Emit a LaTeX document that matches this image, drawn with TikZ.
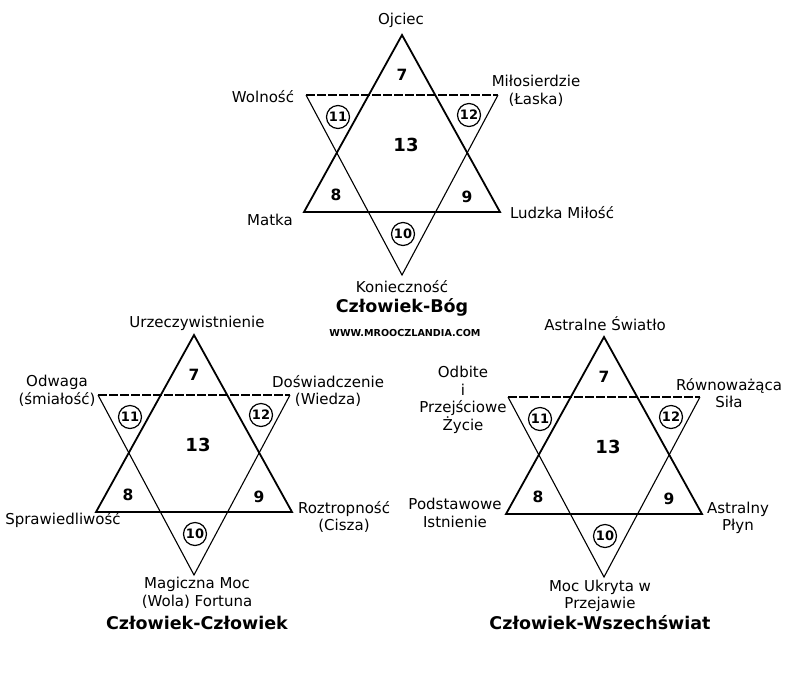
\documentclass[tikz,border=0pt]{standalone}
\usepackage{fontspec}
\setmainfont{DejaVu Sans}
\usetikzlibrary{positioning}

\begin{document}
\begin{tikzpicture}[x=1pt,y=-1pt,
    uptri/.style={line width=1.8pt, line join=miter},
    downtri/.style={line width=1.1pt},
    downtop/.style={line width=1.1pt, dash pattern=on 9pt off 2pt},
    num/.style={font=\fontsize{15.5}{15.5}\selectfont\bfseries},
    ringnum/.style={font=\fontsize{13}{13}\selectfont\bfseries, draw, circle, line width=1.2pt, minimum size=23pt, inner sep=0pt},
    bignum/.style={font=\fontsize{18}{18}\selectfont\bfseries},
    tag/.style={font=\fontsize{15}{17.5}\selectfont, align=center},
    heading/.style={font=\fontsize{17.5}{17.5}\selectfont\bfseries},
    url/.style={font=\fontsize{9.6}{9.6}\selectfont\bfseries}]

    \useasboundingbox (0,0) rectangle (800,673);

    % the three stars: name / apex x / apex y
    \foreach \s/\ax/\ay in {god/402/35, man/194/335, cosmos/604/337}{
        \begin{scope}[shift={(\ax,\ay)}]
            \coordinate (\s-top) at (0,0);
            \coordinate (\s-bl) at (-98,177);
            \coordinate (\s-br) at (98,177);
            \coordinate (\s-dl) at (-96,60);
            \coordinate (\s-dr) at (96,60);
            \coordinate (\s-db) at (0,240);

            % downward triangle, thin with a broken top edge
            \draw[downtri] (\s-dl) -- (\s-db) -- (\s-dr);
            \draw[downtop] (\s-dl) -- (\s-dr);
            % upward triangle
            \draw[uptri] (\s-top) -- (\s-bl) -- (\s-br) -- cycle;

            % numbered fields
            \node[num] (\s-7) at (0,40) {7};
            \node[ringnum] (\s-11) at (-64,82) {11};
            \node[ringnum] (\s-12) at (67,80) {12};
            \node[bignum] (\s-13) at (4,110) {13};
            \node[num] (\s-8) at (-66,160) {8};
            \node[num] (\s-9) at (65,162) {9};
            \node[ringnum] (\s-10) at (1,199) {10};
        \end{scope}
    }

    % Człowiek-Bóg
    \node[tag] (god-father) at (401,20) {Ojciec};
    \node[tag] (god-freedom) at (263,97) {Wolność};
    \node[tag] (god-mercy) at (536,91) {Miłosierdzie\\(Łaska)};
    \node[tag] (god-mother) at (270,220) {Matka};
    \node[tag] (god-love) at (562,213) {Ludzka Miłość};
    \node[tag] (god-need) at (402,287) {Konieczność};
    \node[heading] (god-title) at (402,307) {Człowiek-Bóg};
    \node[url] (god-url) at (405,333) {WWW.MROOCZLANDIA.COM};

    % Człowiek-Człowiek
    \node[tag] (man-real) at (197,323) {Urzeczywistnienie};
    \node[tag] (man-courage) at (57,391) {Odwaga\\(śmiałość)};
    \node[tag] (man-exp) at (328,391) {Doświadczenie\\(Wiedza)};
    \node[tag] (man-justice) at (63,520) {Sprawiedliwość};
    \node[tag] (man-prudence) at (344,517) {Roztropność\\(Cisza)};
    \node[tag] (man-power) at (197,593) {Magiczna Moc\\(Wola) Fortuna};
    \node[heading] (man-title) at (197,623) {Człowiek-Człowiek};

    % Człowiek-Wszechświat
    \node[tag] (cosmos-light) at (605,324) {Astralne Światło};
    \node[tag] (cosmos-life) at (463,400) {Odbite\\i\\Przejściowe\\Życie};
    \node[tag] (cosmos-force) at (729,393) {Równoważąca\\Siła};
    \node[tag] (cosmos-being) at (455,513) {Podstawowe\\Istnienie};
    \node[tag] (cosmos-fluid) at (738,518) {Astralny\\Płyn};
    \node[tag] (cosmos-hidden) at (600,596) {Moc Ukryta w\\Przejawie};
    \node[heading] (cosmos-title) at (600,623) {Człowiek-Wszechświat};
\end{tikzpicture}
\end{document}
